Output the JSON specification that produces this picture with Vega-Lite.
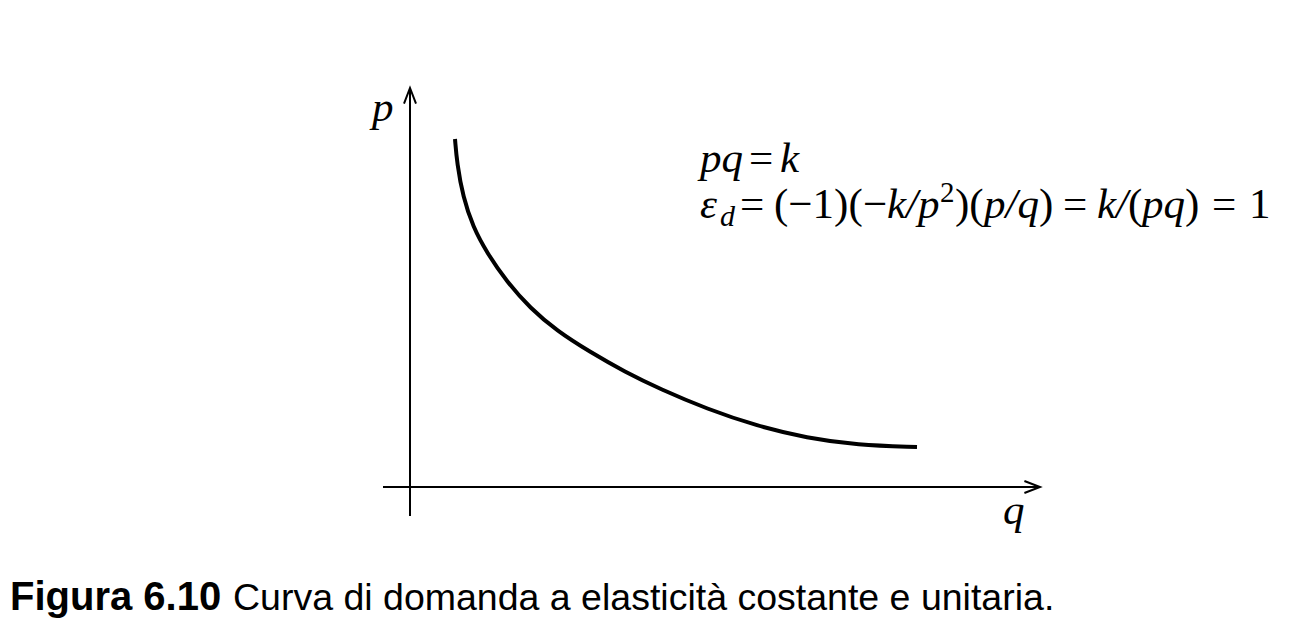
{
  "$schema": "https://vega.github.io/schema/vega-lite/v6.json",
  "width": 1312,
  "height": 628,
  "autosize": {"type": "fit", "contains": "padding"},
  "padding": 0,
  "background": "white",
  "config": {"view": {"stroke": null}},
  "datasets": {
    "axes": [
      {"q1": -0.54, "p1": 0, "q2": 12.6, "p2": 0},
      {"q1": 0, "p1": -0.58, "q2": 0, "p2": 7.98}
    ],
    "arrows": [
      {"q": 12.6, "p": 0, "dir": 0},
      {"q": 0, "p": 7.98, "dir": 270}
    ],
    "curve": [
      {"q": 0.90, "p": 6.96},
      {"q": 0.94, "p": 6.48},
      {"q": 1.06, "p": 5.80},
      {"q": 1.26, "p": 5.20},
      {"q": 1.54, "p": 4.68},
      {"q": 1.94, "p": 4.10},
      {"q": 2.40, "p": 3.58},
      {"q": 2.94, "p": 3.12},
      {"q": 3.60, "p": 2.70},
      {"q": 4.30, "p": 2.30},
      {"q": 5.00, "p": 1.96},
      {"q": 5.94, "p": 1.56},
      {"q": 6.94, "p": 1.22},
      {"q": 7.94, "p": 0.98},
      {"q": 8.94, "p": 0.84},
      {"q": 10.14, "p": 0.80}
    ],
    "italic": [
      {"q": 5.80, "p": 6.3, "t": "pq"},
      {"q": 7.40, "p": 6.3, "t": "k"},
      {"q": 5.80, "p": 5.38, "t": "ε"},
      {"q": 9.54, "p": 5.38, "t": "k/p"},
      {"q": 11.48, "p": 5.38, "t": "p/q"},
      {"q": 13.74, "p": 5.38, "t": "k/"},
      {"q": 14.64, "p": 5.38, "t": "pq"},
      {"q": -0.76, "p": 7.32, "t": "p"},
      {"q": 11.86, "p": -0.74, "t": "q"}
    ],
    "upright": [
      {"q": 6.78, "p": 6.3, "t": "="},
      {"q": 6.60, "p": 5.38, "t": "="},
      {"q": 7.28, "p": 5.38, "t": "(−1)("},
      {"q": 9.06, "p": 5.38, "t": "−"},
      {"q": 10.90, "p": 5.38, "t": ")("},
      {"q": 12.58, "p": 5.38, "t": ")"},
      {"q": 13.06, "p": 5.38, "t": "="},
      {"q": 14.36, "p": 5.38, "t": "("},
      {"q": 15.50, "p": 5.38, "t": ")"},
      {"q": 16.04, "p": 5.38, "t": "="},
      {"q": 16.78, "p": 5.38, "t": "1"}
    ],
    "sub": [{"q": 6.20, "p": 5.22, "t": "d"}],
    "sup": [{"q": 10.60, "p": 5.70, "t": "2"}],
    "capbold": [{"q": -8.0, "p": -2.46, "t": "Figura 6.10"}],
    "capreg": [{"q": -3.54, "p": -2.46, "t": "Curva di domanda a elasticità costante e unitaria."}]
  },
  "encoding": {
    "x": {"field": "q", "type": "quantitative", "scale": {"domain": [-8.2, 18.04], "nice": false, "zero": false}, "axis": null},
    "y": {"field": "p", "type": "quantitative", "scale": {"domain": [-2.82, 9.74], "nice": false, "zero": false}, "axis": null}
  },
  "layer": [
    {
      "data": {"name": "axes"},
      "mark": {"type": "rule", "color": "black", "strokeWidth": 2},
      "encoding": {
        "x": {"field": "q1", "type": "quantitative"},
        "y": {"field": "p1", "type": "quantitative"},
        "x2": {"field": "q2"},
        "y2": {"field": "p2"}
      }
    },
    {
      "data": {"name": "arrows"},
      "mark": {"type": "point", "shape": "M-2.6,-1L0,0L-2.6,1", "filled": false, "stroke": "black", "strokeWidth": 2, "size": 144, "opacity": 1},
      "encoding": {
        "angle": {"field": "dir", "type": "quantitative", "scale": null}
      }
    },
    {
      "data": {"name": "curve"},
      "mark": {"type": "line", "color": "black", "strokeWidth": 4, "interpolate": "basis"},
      "encoding": {}
    },
    {
      "data": {"name": "italic"},
      "mark": {"type": "text", "font": "Liberation Serif", "fontStyle": "italic", "fontSize": 43, "align": "left", "baseline": "alphabetic", "color": "black"},
      "encoding": {"text": {"field": "t"}}
    },
    {
      "data": {"name": "upright"},
      "mark": {"type": "text", "font": "Liberation Serif", "fontSize": 43, "align": "left", "baseline": "alphabetic", "color": "black"},
      "encoding": {"text": {"field": "t"}}
    },
    {
      "data": {"name": "sub"},
      "mark": {"type": "text", "font": "Liberation Serif", "fontStyle": "italic", "fontSize": 30, "align": "left", "baseline": "alphabetic", "color": "black"},
      "encoding": {"text": {"field": "t"}}
    },
    {
      "data": {"name": "sup"},
      "mark": {"type": "text", "font": "Liberation Serif", "fontSize": 29, "align": "left", "baseline": "alphabetic", "color": "black"},
      "encoding": {"text": {"field": "t"}}
    },
    {
      "data": {"name": "capbold"},
      "mark": {"type": "text", "font": "Liberation Sans", "fontWeight": "bold", "fontSize": 40, "align": "left", "baseline": "alphabetic", "color": "black"},
      "encoding": {"text": {"field": "t"}}
    },
    {
      "data": {"name": "capreg"},
      "mark": {"type": "text", "font": "Liberation Sans", "fontSize": 37.5, "align": "left", "baseline": "alphabetic", "color": "black"},
      "encoding": {"text": {"field": "t"}}
    }
  ]
}
